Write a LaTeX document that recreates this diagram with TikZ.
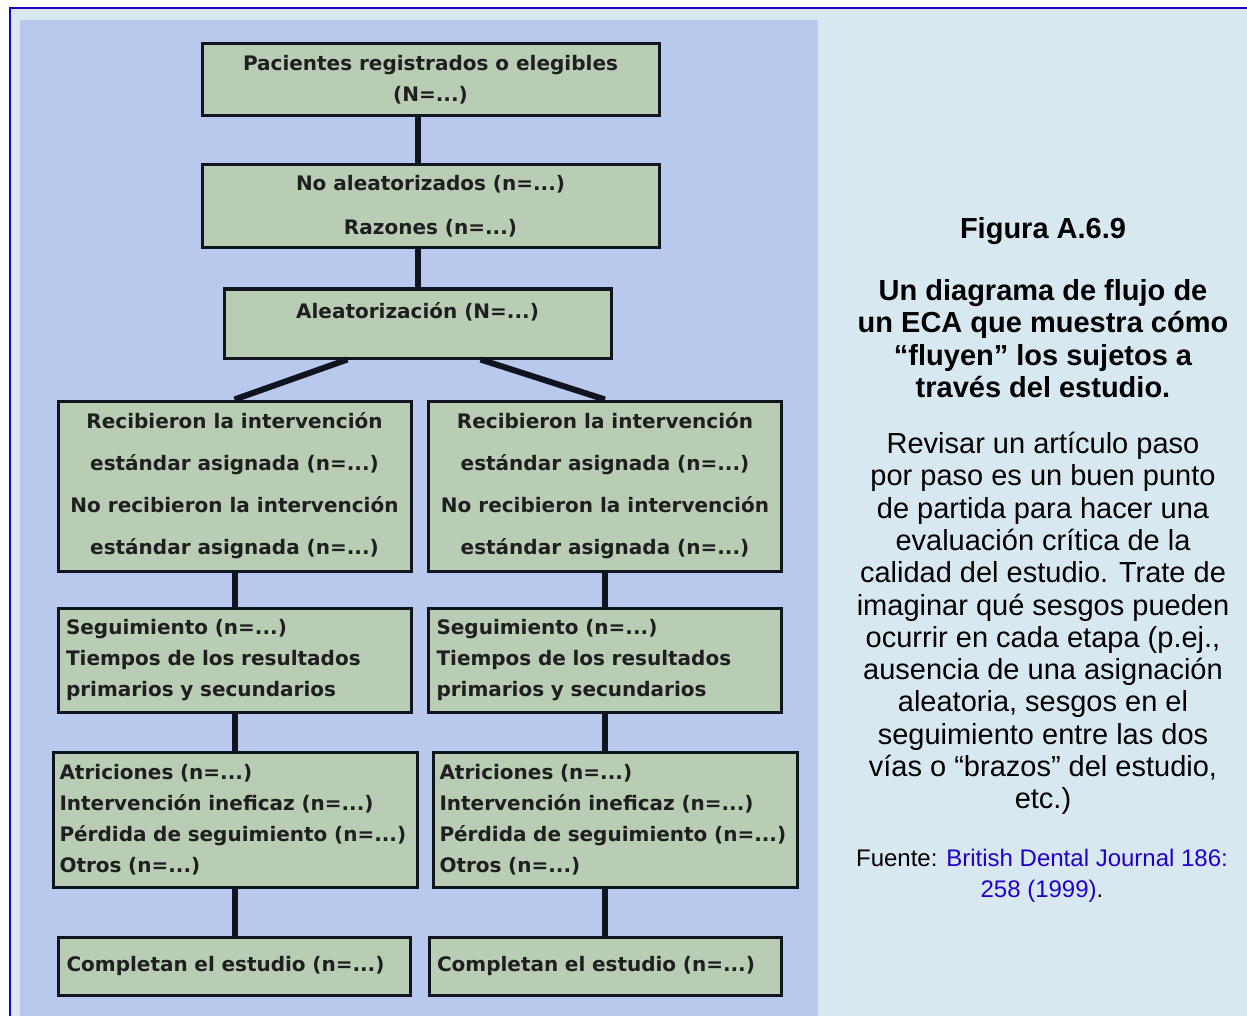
\documentclass[tikz,border=0pt]{standalone}
\usepackage{fontspec}
\setmainfont{Liberation Sans}
\newfontfamily\cajafont{DejaVu Sans}
\usetikzlibrary{positioning}

\definecolor{fondo}{HTML}{D8E8F1}
\definecolor{lila}{HTML}{B9C9EE}
\definecolor{verde}{HTML}{B9CDB5}
\definecolor{marco}{HTML}{2200C8}
\definecolor{enlace}{HTML}{2200CC}
\definecolor{trazo}{HTML}{10141E}

\tikzset{
  caja/.style={draw=trazo, line width=3pt, fill=verde, text=black!88,
    font=\cajafont\bfseries\fontsize{20}{31}\selectfont, align=center, inner sep=0pt},
  cajaizq/.style={caja, align=left},
  linea/.style={draw=trazo, line width=6pt},
  texto/.style={font=\fontsize{29}{32.3}\selectfont, align=center}
}

\begin{document}
\begin{tikzpicture}[x=1pt, y=-1pt]
    \useasboundingbox (0,0) rectangle (1247,1016);
    \fill[white] (0,0) rectangle (1247,1016);
    \fill[fondo] (10,8) rectangle (1247,1016);
    \draw[marco, line width=2.5pt] (10,1016) -- (10,8) -- (1247,8);
    \fill[lila] (20,20) rectangle (818,1016);

    % tronco comun
    \node[caja, minimum width=457pt, minimum height=72pt] (pac) at (430.5,80)
      {Pacientes registrados o elegibles\\(N=...)};
    \node[caja, minimum width=457pt, minimum height=83pt] (noal) at (430.5,206.5)
      {No aleatorizados (n=...)\\[13pt]Razones (n=...)};
    \node[caja, minimum width=387pt, minimum height=69pt, text height=13pt, text depth=23pt] (alea) at (417.5,323.5)
      {Aleatorización (N=...)};

    % dos brazos
    \foreach \b/\x/\xa in {l/234.5/235.5, r/605/615.5} {
      \node[caja, minimum width=353pt, minimum height=170pt] (rec\b) at (\x,486)
        {Recibieron la intervención\\[11pt]estándar asignada (n=...)\\[11pt]No recibieron la intervención\\[11pt]estándar asignada (n=...)};
      \node[cajaizq, minimum width=353pt, minimum height=104pt, text width=337pt] (seg\b) at (\x,660)
        {Seguimiento (n=...)\\Tiempos de los resultados\\primarios y secundarios};
      \node[cajaizq, minimum width=364pt, minimum height=135pt, text width=352pt] (atr\b) at (\xa,819.5)
        {Atriciones (n=...)\\Intervención ineficaz (n=...)\\Pérdida de seguimiento (n=...)\\Otros (n=...)};
      \node[cajaizq, minimum width=352pt, minimum height=58pt, text width=336pt] (com\b) at (\x,966)
        {Completan el estudio (n=...)};
      \draw[linea] (rec\b.south) -- (seg\b.north);
      \draw[linea] (seg\b.south) -- (seg\b.south |- atr\b.north);
      \draw[linea] (seg\b.south |- atr\b.south) -- (com\b.north);
    }

    \draw[linea] (pac.south -| alea) -- (noal.north -| alea);
    \draw[linea] (noal.south -| alea) -- (alea.north);
    \draw[linea] ([xshift=-70pt]alea.south) -- (recl.north);
    \draw[linea] ([xshift=63pt]alea.south) -- (recr.north);

    % leyenda
    \node[texto, font=\bfseries\fontsize{29}{32.3}\selectfont] (fig) at (1043,231) {Figura A.6.9};
    \node[texto, font=\bfseries\fontsize{29}{32.3}\selectfont] (tit) at (1043,338.5)
      {Un diagrama de flujo de\\un ECA que muestra cómo\\“fluyen” los sujetos a\\través del estudio.};
    \node[texto] (cuerpo) at (1043,623.5)
      {Revisar un artículo paso\\por paso es un buen punto\\de partida para hacer una\\evaluación crítica de la\\calidad del estudio. Trate de\\imaginar qué sesgos pueden\\ocurrir en cada etapa (p.ej.,\\ausencia de una asignación\\aleatoria, sesgos en el\\seguimiento entre las dos\\vías o “brazos” del estudio,\\etc.)};
    \node[texto, font=\fontsize{24}{31}\selectfont] (fuente) at (1042,875.5)
      {Fuente: \textcolor{enlace}{British Dental Journal 186:}\\\textcolor{enlace}{258 (1999)}.};

  \end{tikzpicture}
\end{document}
